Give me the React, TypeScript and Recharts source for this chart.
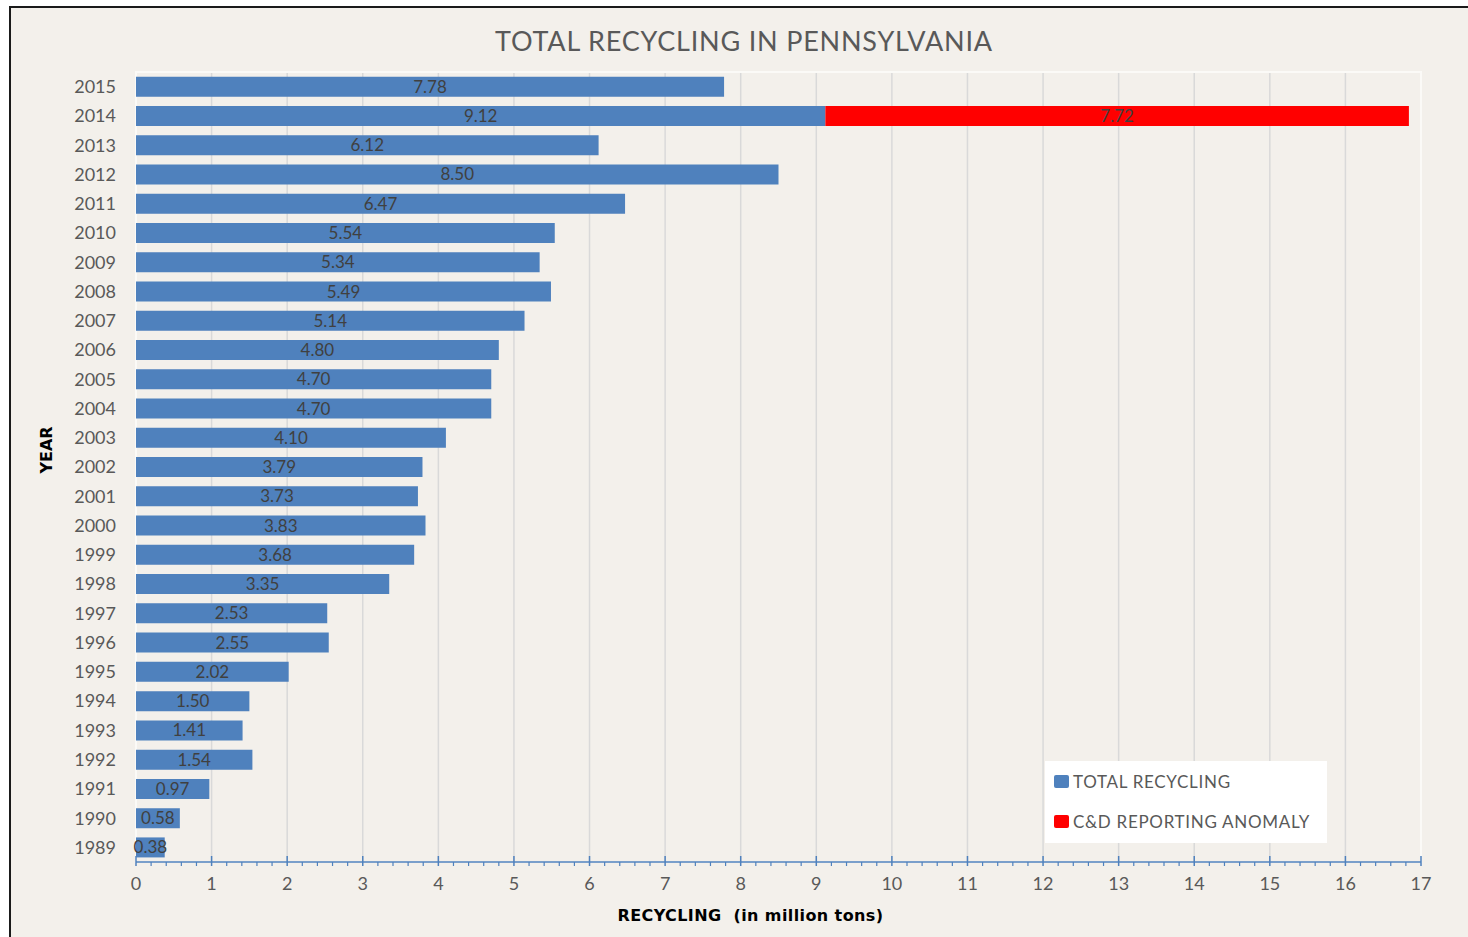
import { BarChart, Bar, XAxis, YAxis, CartesianGrid, LabelList, ReferenceArea } from 'recharts'

const YEARS = [
  '2015', '2014', '2013', '2012', '2011', '2010', '2009', '2008', '2007',
  '2006', '2005', '2004', '2003', '2002', '2001', '2000', '1999', '1998',
  '1997', '1996', '1995', '1994', '1993', '1992', '1991', '1990', '1989',
]
const TOTAL = [
  7.78, 9.12, 6.12, 8.5, 6.47, 5.54, 5.34, 5.49, 5.14,
  4.8, 4.7, 4.7, 4.1, 3.79, 3.73, 3.83, 3.68, 3.35,
  2.53, 2.55, 2.02, 1.5, 1.41, 1.54, 0.97, 0.58, 0.38,
]
// only 2014 has the C&D anomaly
const ANOMALY: Record<string, number> = { '2014': 7.72 }

const MAJOR_TICKS = [0, 1, 2, 3, 4, 5, 6, 7, 8, 9, 10, 11, 12, 13, 14, 15, 16, 17]
// major + minor ticks, every 0.2
const ALL_TICKS = Array.from({ length: 86 }, (_, i) => i / 5)

const BLUE = '#4f81bd'
const RED = '#ff0000'
const BG = '#f3f0eb'
const TEXT = '#595959'
const FONT = 'Lato, "Open Sans", sans-serif'
const BOLD_FONT = '"DejaVu Sans", Verdana, sans-serif'

const SERIES = [
  { key: 'total', name: 'TOTAL RECYCLING', color: BLUE },
  { key: 'anomaly', name: 'C&D REPORTING ANOMALY', color: RED },
]

const data = YEARS.map((year, i) => ({
  year,
  total: TOTAL[i],
  anomaly: ANOMALY[year] ?? null,
}))

function fmt(v: unknown) {
  if (v == null || v === 0) return ''
  return Number(v).toFixed(2)
}

function AxisTick(props: any) {
  const { x, y, payload } = props
  // y is text top: axis line + tickSize(0) + tickMargin(14)
  const axisY = y - 14
  const v = payload.value
  if (!Number.isInteger(v)) {
    return <line x1={x} x2={x} y1={axisY} y2={axisY + 4} stroke={BLUE} strokeWidth={1.2} />
  }
  return (
    <g>
      <line x1={x} x2={x} y1={axisY - 6} y2={axisY + 4} stroke={BLUE} strokeWidth={1.5} />
      <text x={x} y={y} dy="0.8em" textAnchor="middle" fill={TEXT} fontSize={18} fontFamily={FONT}>
        {v}
      </text>
    </g>
  )
}

function LegendBox() {
  return (
    <div
      style={{
        position: 'absolute',
        left: 1045,
        top: 761,
        background: '#ffffff',
        width: 282,
        height: 82,
        boxSizing: 'border-box',
        padding: '0 0 0 9px',
        fontFamily: FONT,
        fontSize: 17,
        letterSpacing: 0.7,
        color: TEXT,
      }}
    >
      {SERIES.map((s) => (
        <div key={s.key} style={{ display: 'flex', alignItems: 'center', height: 40 }}>
          <span
            style={{
              display: 'inline-block',
              width: 15,
              height: 13,
              marginRight: 4,
              borderRadius: 2,
              background: s.color,
            }}
          />
          <span>{s.name}</span>
        </div>
      ))}
    </div>
  )
}

export default function App() {
  return (
    <div style={{ position: 'absolute', left: 0, top: 0, width: 1468, height: 937, background: '#fff' }}>
      <div
        style={{
          position: 'absolute',
          left: 9,
          top: 6,
          width: 1459,
          height: 931,
          background: BG,
          borderLeft: '2px solid #1a1a1a',
          borderTop: '2px solid #1a1a1a',
          boxSizing: 'border-box',
        }}
      />
      <div
        style={{
          position: 'absolute',
          left: 0,
          top: 24,
          width: 1468,
          textAlign: 'center',
          fontFamily: FONT,
          fontSize: 27,
          letterSpacing: 0.8,
          color: TEXT,
          paddingLeft: 20,
          boxSizing: 'border-box',
        }}
      >
        TOTAL RECYCLING IN PENNSYLVANIA
      </div>
      <div style={{ position: 'absolute', left: 0, top: 0 }}>
        <BarChart
          width={1468}
          height={937}
          data={data}
          layout="vertical"
          margin={{ top: 72, right: 47, bottom: 5, left: 0 }}
          barCategoryGap="16%"
        >
          <CartesianGrid horizontal={false} vertical stroke="#d9d9d9" strokeWidth={1.5} verticalValues={MAJOR_TICKS} />
          <ReferenceArea x1={0} x2={17} fill="none" stroke="#fbfaf7" strokeWidth={2} ifOverflow="visible" />
          <XAxis
            type="number"
            domain={[0, 17]}
            ticks={ALL_TICKS}
            interval={0}
            allowDecimals
            tickSize={0}
            tickMargin={14}
            tickLine={false}
            axisLine={{ stroke: BLUE, strokeWidth: 1.5 }}
            tick={<AxisTick />}
            height={70}
            label={(props: any) => {
              const vb = props.viewBox
              const cx = vb.x + vb.width / 2 - 28
              const cy = vb.y + 53
              return (
                <text
                  x={cx}
                  y={cy}
                  textAnchor="middle"
                  dominantBaseline="central"
                  fill="#000"
                  fontSize={16}
                  fontWeight={700}
                  fontFamily={BOLD_FONT}
                  letterSpacing={0.4}
                  style={{ whiteSpace: 'pre' }}
                >
                  RECYCLING  (in million tons)
                </text>
              )
            }}
          />
          <YAxis
            type="category"
            dataKey="year"
            width={136}
            tickSize={0}
            tickMargin={20}
            tickLine={false}
            axisLine={false}
            interval={0}
            tick={{ fill: TEXT, fontSize: 18, fontFamily: FONT }}
            label={(props: any) => {
              const vb = props.viewBox
              const cx = vb.x + 46
              const cy = vb.y + vb.height / 2 - 17
              return (
                <text
                  x={cx}
                  y={cy}
                  transform={`rotate(-90, ${cx}, ${cy})`}
                  textAnchor="middle"
                  dominantBaseline="central"
                  fill="#000"
                  fontSize={16}
                  fontWeight={700}
                  fontFamily={BOLD_FONT}
                >
                  YEAR
                </text>
              )
            }}
          />
          {SERIES.map((s) => (
            <Bar key={s.key} dataKey={s.key} name={s.name} stackId="a" fill={s.color} isAnimationActive={false}>
              <LabelList dataKey={s.key} position="center" formatter={fmt} fill="#404040" fontSize={17} fontFamily={FONT} />
            </Bar>
          ))}
        </BarChart>
      </div>
      <LegendBox />
    </div>
  )
}
